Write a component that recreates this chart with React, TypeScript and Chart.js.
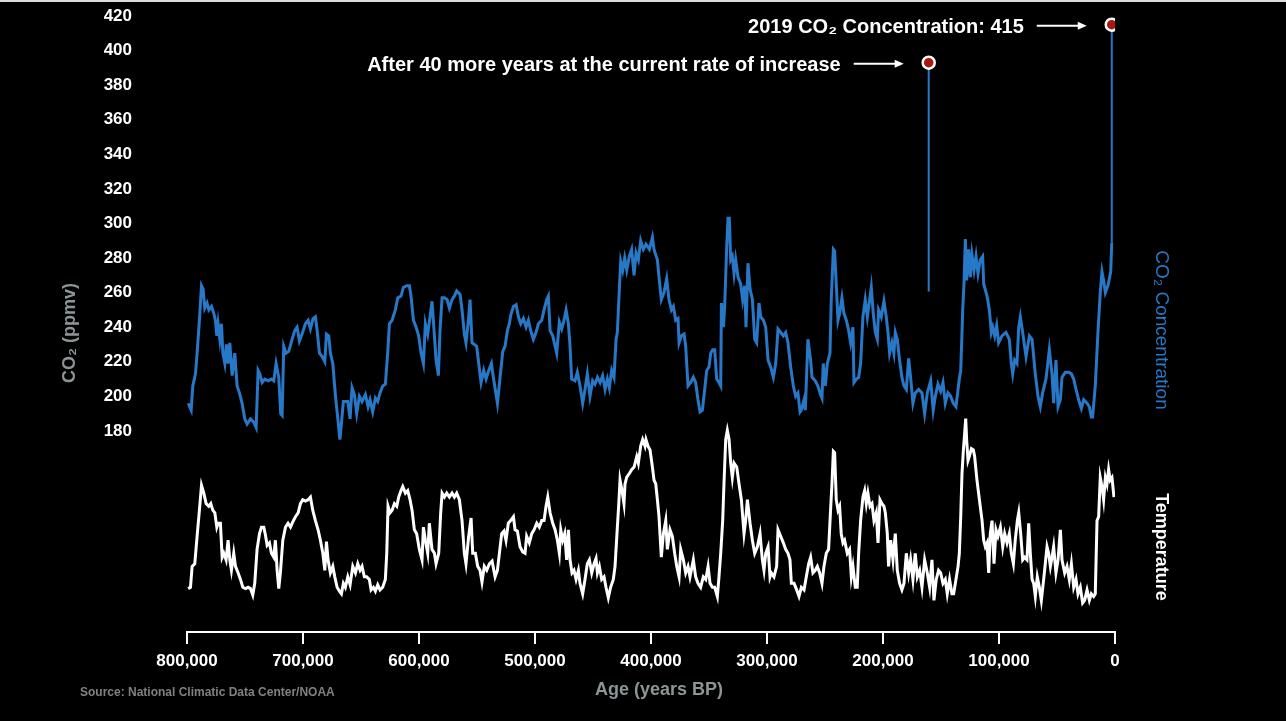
import React, { useEffect, useRef } from "react";
import { Chart, registerables } from "chart.js";

Chart.register(...registerables);

// Age in thousands of years before present (kyr BP)
const co2Age = [
  799.0, 796.4, 795.0, 792.7, 791.3, 789.3, 787.5, 786.1, 784.7, 782.7, 781.2, 778.9, 776.9, 775.5, 774.3, 773.2,
  771.7, 770.3, 769.1, 767.4, 766.0, 764.6, 763.1, 761.1, 758.8, 756.8, 754.8, 752.5, 750.2, 748.2, 745.3, 742.4,
  740.4, 738.7, 737.3, 735.2, 732.9, 730.1, 727.2, 725.2, 723.2, 720.9, 719.2, 718.0, 716.6, 714.6, 712.3, 709.4,
  707.1, 705.1, 703.1, 700.8, 697.9, 695.6, 693.6, 691.3, 689.3, 687.8, 685.8, 683.5, 681.2, 679.8, 677.8, 676.4,
  674.3, 672.0, 669.8, 668.2, 666.8, 665.2, 661.4, 659.4, 657.7, 655.7, 653.7, 651.4, 649.1, 646.2, 643.9, 642.2,
  639.9, 637.6, 635.6, 633.6, 631.3, 629.0, 627.0, 625.5, 623.2, 620.4, 618.3, 615.5, 613.5, 610.6, 608.3, 606.9,
  604.8, 602.5, 600.3, 598.2, 596.2, 594.5, 592.5, 590.5, 588.8, 586.7, 585.3, 583.3, 581.9, 580.1, 578.1, 575.8,
  573.8, 571.5, 569.5, 567.5, 564.6, 562.9, 560.9, 559.5, 557.4, 556.0, 554.3, 552.3, 550.3, 548.5, 546.5, 544.2,
  542.2, 539.9, 537.6, 535.9, 532.4, 530.1, 527.8, 525.8, 523.8, 522.1, 520.9, 518.6, 516.3, 514.3, 512.3, 510.0,
  507.7, 505.7, 503.7, 501.4, 499.1, 497.1, 494.2, 492.2, 489.9, 488.5, 487.0, 484.7, 482.7, 481.3, 479.0, 477.0,
  475.0, 473.2, 471.2, 469.8, 468.4, 465.5, 463.5, 461.2, 458.9, 456.9, 454.9, 452.6, 450.3, 448.3, 446.2, 443.9,
  441.7, 439.6, 437.6, 435.9, 433.9, 431.9, 430.1, 429.0, 427.3, 426.1, 424.4, 422.7, 420.9, 418.7, 416.7, 414.6,
  412.9, 410.9, 408.9, 406.6, 404.3, 401.4, 398.8, 397.4, 394.5, 393.1, 391.1, 388.8, 386.5, 384.5, 382.4, 380.7,
  378.7, 376.7, 375.8, 373.8, 371.5, 370.1, 368.1, 365.8, 363.5, 361.5, 359.5, 357.7, 355.7, 353.7, 352.0, 350.0,
  348.5, 346.8, 345.1, 343.4, 341.4, 339.9, 339.3, 337.6, 336.5, 334.7, 333.6, 332.5, 331.3, 329.9, 328.4, 327.0,
  325.0, 322.7, 321.0, 319.2, 318.1, 316.4, 314.6, 312.6, 310.6, 308.9, 306.9, 305.4, 303.1, 301.1, 299.1, 296.8,
  294.5, 292.5, 290.5, 288.2, 285.9, 283.9, 281.9, 279.6, 277.3, 275.3, 273.3, 271.5, 270.4, 268.1, 267.0, 264.7,
  262.4, 261.2, 258.4, 256.1, 253.8, 252.6, 251.5, 249.7, 248.0, 245.7, 244.6, 242.8, 241.7, 240.3, 238.8, 237.4,
  235.4, 233.7, 231.6, 229.6, 227.9, 225.9, 225.0, 223.0, 221.0, 219.3, 217.3, 215.3, 213.5, 211.5, 210.1, 208.4,
  206.6, 204.9, 203.8, 201.5, 199.2, 197.2, 195.7, 194.3, 192.3, 190.6, 189.4, 187.7, 185.7, 183.7, 181.9, 179.9,
  177.9, 176.2, 174.2, 172.2, 169.3, 166.4, 164.1, 161.8, 158.9, 156.7, 154.9, 152.6, 150.3, 148.3, 146.3, 144.0,
  141.7, 139.4, 137.1, 135.3, 134.2, 133.0, 131.9, 131.3, 130.2, 129.0, 127.9, 126.1, 124.7, 123.3, 121.5, 119.8,
  118.1, 116.1, 114.1, 113.2, 110.3, 108.3, 106.6, 105.4, 103.7, 102.0, 100.3, 97.4, 94.0, 91.1, 89.4, 88.2,
  86.5, 84.5, 83.0, 81.6, 79.6, 76.7, 73.8, 71.5, 68.7, 66.4, 64.4, 62.4, 59.5, 56.6, 54.3, 52.9,
  50.9, 49.1, 47.1, 45.7, 42.8, 39.9, 37.6, 35.6, 33.6, 31.3, 29.0, 27.0, 24.1, 22.1, 20.4, 19.3,
  17.0, 14.7, 12.7, 11.2, 9.8, 8.3, 6.1, 3.7, 2.8
];

const co2Ppm = [
  196, 192, 206, 213, 225, 244, 264, 262, 251, 254, 250, 252, 248, 244, 235, 242,
  233, 242, 225, 219, 230, 219, 231, 212, 225, 206, 202, 196, 187, 184, 187, 185,
  182, 215, 213, 208, 210, 209, 210, 209, 219, 211, 190, 189, 229, 225, 226, 233,
  238, 240, 232, 236, 242, 244, 239, 245, 246, 238, 225, 223, 220, 236, 235, 225,
  219, 200, 186, 175, 185, 197, 197, 187, 205, 201, 190, 200, 197, 201, 194, 198,
  191, 199, 197, 202, 206, 207, 225, 242, 244, 250, 257, 258, 263, 264, 264, 258,
  244, 240, 235, 225, 219, 242, 236, 246, 255, 235, 221, 212, 238, 257, 257, 256,
  251, 256, 258, 261, 259, 250, 236, 231, 244, 256, 231, 230, 229, 219, 208, 215,
  210, 215, 219, 211, 196, 211, 226, 229, 238, 242, 247, 252, 253, 246, 242, 245,
  240, 244, 238, 233, 237, 242, 244, 250, 256, 258, 238, 235, 229, 225, 243, 239,
  244, 250, 242, 229, 210, 209, 214, 206, 196, 204, 213, 200, 209, 207, 211, 208,
  212, 204, 210, 205, 215, 211, 233, 237, 262, 278, 273, 280, 273, 281, 285, 270,
  283, 279, 290, 285, 288, 285, 292, 285, 279, 269, 256, 260, 268, 256, 250, 252,
  244, 245, 231, 235, 236, 229, 206, 208, 211, 208, 198, 191, 192, 204, 215, 217,
  225, 227, 227, 210, 208, 206, 254, 240, 252, 287, 303, 303, 279, 281, 271, 279,
  269, 265, 256, 264, 240, 277, 262, 256, 233, 231, 254, 246, 244, 240, 221, 217,
  211, 219, 239, 237, 235, 237, 231, 217, 206, 200, 202, 191, 192, 198, 192, 233,
  221, 211, 209, 206, 201, 199, 219, 206, 219, 225, 256, 285, 284, 265, 244, 248,
  257, 248, 244, 238, 231, 240, 208, 210, 211, 219, 246, 256, 246, 256, 263, 248,
  237, 233, 250, 246, 255, 246, 237, 225, 231, 225, 237, 233, 221, 211, 206, 204,
  222, 211, 196, 202, 204, 202, 190, 202, 209, 192, 200, 207, 203, 208, 196, 202,
  200, 196, 194, 204, 210, 215, 237, 250, 265, 291, 267, 285, 269, 282, 273, 281,
  271, 279, 281, 265, 258, 250, 237, 240, 235, 241, 231, 235, 237, 233, 219, 213,
  221, 219, 240, 246, 237, 223, 235, 233, 213, 200, 194, 202, 210, 227, 213, 196,
  221, 194, 198, 211, 214, 214, 213, 210, 204, 198, 193, 198, 196, 194, 188, 188,
  206, 237, 260, 272, 267, 260, 264, 272, 289
];

const tempAge = [
  799.0, 797.0, 795.6, 793.3, 791.3, 789.3, 787.5, 785.5, 783.5, 781.2, 779.5, 777.8, 776.0, 774.3, 773.2, 771.2,
  769.7, 768.3, 766.3, 764.6, 763.1, 761.7, 759.7, 758.2, 755.9, 753.9, 751.9, 749.6, 747.3, 745.3, 743.3, 741.6,
  739.6, 737.5, 735.8, 733.8, 732.4, 730.9, 728.9, 727.2, 725.2, 723.8, 722.3, 720.9, 719.5, 717.4, 715.1, 712.9,
  710.8, 708.8, 706.5, 704.2, 702.2, 700.2, 697.9, 695.6, 693.6, 691.6, 689.3, 687.0, 685.0, 682.9, 681.2, 679.8,
  678.4, 676.4, 674.3, 672.6, 670.6, 668.6, 666.9, 665.2, 663.5, 661.4, 659.4, 657.1, 654.8, 652.8, 650.8, 649.1,
  647.1, 645.1, 642.8, 641.3, 639.3, 637.6, 635.6, 633.6, 631.3, 629.0, 627.8, 626.7, 625.0, 623.2, 621.2, 619.2,
  617.5, 615.5, 614.0, 611.7, 609.7, 607.7, 606.0, 604.0, 602.0, 599.7, 597.4, 596.2, 594.5, 592.5, 591.1, 588.8,
  586.7, 585.3, 583.0, 581.3, 580.1, 578.1, 576.1, 573.8, 571.5, 569.5, 567.5, 565.2, 562.9, 560.9, 559.5, 557.2,
  555.1, 553.7, 551.4, 549.4, 547.4, 545.7, 543.7, 541.6, 539.3, 537.0, 534.4, 532.4, 530.7, 528.7, 526.7, 525.0,
  523.0, 521.0, 518.6, 517.2, 515.2, 512.9, 510.6, 508.6, 507.2, 504.9, 502.8, 500.8, 498.5, 496.3, 494.2, 492.2,
  490.5, 489.0, 487.0, 484.7, 482.7, 480.7, 479.0, 477.8, 476.1, 474.4, 472.7, 471.2, 469.8, 468.1, 466.4, 464.6,
  462.6, 461.2, 458.9, 456.9, 454.9, 453.1, 451.1, 449.1, 447.4, 446.2, 444.5, 442.5, 440.5, 438.8, 436.8, 434.8,
  432.5, 431.0, 429.0, 427.9, 426.7, 425.0, 423.3, 422.4, 421.0, 418.7, 416.7, 414.6, 412.3, 410.9, 408.9, 407.2,
  405.2, 404.3, 402.6, 400.8, 398.8, 397.4, 395.9, 394.5, 393.1, 391.1, 389.3, 387.3, 385.9, 383.6, 381.6, 379.6,
  377.8, 375.8, 374.4, 372.1, 370.1, 368.1, 366.4, 363.5, 361.5, 359.5, 357.2, 354.9, 352.8, 350.8, 349.1, 347.1,
  345.1, 342.8, 341.4, 339.9, 338.2, 337.1, 335.6, 334.2, 332.7, 331.3, 329.9, 328.4, 326.1, 324.1, 322.1, 319.8,
  318.4, 316.9, 314.6, 312.6, 310.6, 308.3, 306.0, 304.0, 302.6, 301.1, 299.1, 297.4, 296.3, 294.0, 291.7, 290.5,
  288.2, 285.9, 283.9, 281.9, 280.2, 279.0, 276.7, 274.4, 272.4, 270.4, 268.1, 266.1, 264.1, 262.4, 260.4, 258.4,
  256.6, 254.6, 252.6, 250.9, 248.9, 246.9, 245.2, 244.0, 242.8, 241.7, 240.3, 238.8, 237.4, 236.0, 234.5, 233.1,
  230.8, 228.8, 227.3, 225.9, 223.9, 222.2, 221.0, 219.3, 217.3, 215.8, 214.4, 213.0, 211.2, 209.5, 207.8, 205.8,
  204.3, 202.6, 200.9, 199.2, 198.0, 196.3, 195.2, 193.4, 191.4, 189.4, 187.7, 185.7, 183.7, 181.9, 179.9, 177.9,
  176.2, 174.2, 172.2, 170.4, 168.4, 166.4, 164.1, 161.8, 159.8, 157.8, 156.1, 154.1, 152.1, 150.3, 148.3, 146.3,
  144.6, 142.6, 140.6, 139.1, 137.1, 135.3, 134.2, 133.0, 131.9, 130.7, 129.6, 128.7, 127.9, 126.7, 125.6, 123.8,
  122.1, 121.0, 119.0, 116.9, 114.6, 113.2, 111.8, 110.3, 108.9, 107.5, 106.0, 104.3, 102.6, 100.9, 98.8, 96.8,
  95.1, 93.1, 91.1, 89.4, 87.6, 86.0, 84.2, 83.0, 81.3, 79.6, 77.9, 75.9, 74.4, 73.0, 71.5, 70.1,
  68.7, 67.0, 65.2, 63.5, 61.5, 60.1, 58.6, 57.2, 55.7, 54.3, 52.9, 50.9, 49.1, 47.1, 45.7, 43.4,
  41.4, 39.4, 37.6, 35.6, 33.6, 31.9, 29.9, 27.9, 26.2, 24.1, 22.1, 20.4, 18.4, 17.0, 15.5, 14.1,
  12.7, 11.2, 9.8, 8.3, 6.9, 5.5, 4.1, 2.6, 0.9
];

// Temperature anomaly (°C)
const tempAnomaly = [
  -8.9, -8.8, -7.2, -7.0, -4.9, -2.9, -1.0, -1.6, -2.4, -2.6, -2.4, -2.9, -3.1, -4.2, -3.9, -3.9,
  -6.5, -6.2, -6.7, -5.2, -6.7, -7.5, -6.2, -7.2, -7.7, -8.2, -8.8, -8.9, -8.8, -8.9, -9.4, -8.5,
  -5.9, -4.7, -4.2, -4.2, -4.8, -5.6, -5.4, -6.2, -6.5, -5.2, -7.5, -8.9, -7.7, -5.2, -4.2, -3.9,
  -4.2, -3.8, -3.4, -3.1, -2.4, -2.1, -2.2, -2.1, -1.9, -2.9, -3.7, -4.4, -5.2, -6.2, -7.5, -5.3,
  -6.7, -7.7, -7.2, -8.0, -8.8, -9.1, -9.3, -8.5, -8.8, -8.0, -8.6, -7.2, -7.7, -7.0, -7.5, -7.2,
  -8.0, -8.0, -8.2, -9.0, -8.8, -9.1, -8.6, -9.0, -8.8, -8.2, -6.2, -2.6, -3.1, -2.9, -2.4, -2.6,
  -1.9, -1.4, -1.1, -1.6, -1.4, -2.1, -2.9, -4.4, -4.7, -5.9, -6.7, -4.2, -5.2, -6.2, -3.9, -5.9,
  -6.2, -7.0, -6.2, -3.1, -1.6, -1.9, -1.6, -1.9, -1.6, -1.9, -1.6, -2.1, -3.7, -6.2, -7.0, -4.9,
  -3.5, -6.2, -6.2, -7.2, -7.5, -8.4, -7.2, -7.5, -7.0, -6.8, -8.0, -7.5, -6.2, -4.7, -4.5, -5.2,
  -3.9, -3.7, -3.4, -4.4, -4.5, -5.7, -6.1, -6.2, -4.9, -5.4, -4.7, -4.4, -3.9, -4.2, -3.7, -3.7,
  -2.6, -1.9, -3.1, -3.9, -4.4, -5.2, -6.2, -4.4, -5.2, -4.7, -6.7, -4.4, -6.7, -7.7, -7.5, -8.2,
  -7.5, -8.5, -9.3, -8.2, -7.0, -6.7, -7.7, -7.0, -6.6, -7.7, -7.2, -8.2, -8.0, -8.8, -9.6, -8.8,
  -8.2, -7.2, -4.2, -2.6, -0.6, -1.4, -2.4, -0.9, -0.4, -0.1, 0.2, 0.4, 1.2, 0.7, 2.0, 2.5,
  2.0, 2.5, 2.0, 1.7, 0.4, -0.6, -0.9, -2.1, -3.4, -6.5, -4.7, -3.7, -5.9, -4.4, -4.9, -6.2,
  -7.2, -8.0, -5.9, -6.7, -7.7, -7.2, -8.0, -6.7, -8.0, -8.5, -8.8, -8.0, -8.2, -7.2, -8.5, -8.8,
  -8.8, -9.5, -8.0, -6.2, -3.7, -0.9, 2.5, 3.2, 2.5, 0.7, -0.4, 0.7, 0.4, -0.9, -2.1, -4.7,
  -3.7, -2.1, -3.9, -5.2, -6.2, -5.7, -4.7, -6.7, -7.5, -6.2, -5.7, -8.0, -7.7, -8.0, -7.2, -4.4,
  -4.9, -5.4, -5.9, -6.2, -6.7, -8.5, -8.5, -9.0, -9.5, -8.8, -9.0, -8.0, -7.0, -6.5, -7.7, -7.5,
  -7.2, -7.7, -8.5, -7.2, -6.2, -5.9, -2.9, -0.9, 1.6, 1.5, -2.1, -2.9, -2.6, -4.7, -5.4, -5.2,
  -6.2, -5.9, -8.0, -7.2, -8.8, -8.8, -6.2, -3.7, -1.9, -1.4, -2.4, -1.6, -2.6, -2.4, -3.7, -3.1,
  -5.4, -2.1, -2.4, -2.6, -3.1, -4.7, -7.2, -5.2, -6.7, -4.7, -7.5, -8.5, -9.0, -8.5, -6.2, -7.7,
  -6.7, -8.2, -6.2, -8.0, -7.5, -8.8, -6.7, -7.7, -8.8, -6.7, -9.8, -8.2, -7.5, -7.7, -8.5, -8.2,
  -9.3, -8.2, -9.3, -9.3, -8.2, -7.2, -6.2, -3.4, -0.1, 1.7, 3.0, 4.1, 2.5, 0.9, 1.2, 1.8,
  1.7, 1.2, -0.6, -2.1, -3.7, -5.2, -5.7, -5.4, -7.7, -4.7, -3.7, -7.0, -4.4, -4.9, -4.2, -5.7,
  -4.7, -5.4, -4.7, -6.2, -7.0, -5.2, -3.7, -3.1, -4.7, -6.7, -6.5, -6.7, -3.9, -6.2, -8.2, -8.5,
  -9.5, -8.0, -8.8, -9.8, -8.2, -7.0, -5.7, -6.2, -7.2, -6.5, -5.7, -7.7, -6.7, -4.4, -6.7, -7.7,
  -7.2, -8.2, -7.0, -8.8, -8.2, -9.3, -8.8, -10.0, -9.8, -9.0, -9.8, -9.3, -9.5, -9.3, -3.7, -3.4,
  -0.4, -1.1, -2.1, -0.4, -0.9, 0.2, -0.6, -0.4, -1.9
];

// Highlighted values (2019 measurement; projection after 40 more years)
const markerAge = [2.8, 160.6];
const markerPpm = [415, 393];
const markerBasePpm = [289, 260.6];
const markerLabels = [
  "2019 CO\u2082 Concentration: 415",
  "After 40 more years at the current rate of increase",
];

const co2TickValues = [180, 200, 220, 240, 260, 280, 300, 320, 340, 360, 380, 400, 420];
const ageTickValues = [0, 100, 200, 300, 400, 500, 600, 700, 800];

const BLUE = "#2878c8";
const GRAY = "#8c9696";
const FONT = '"Liberation Sans", Arial, Helvetica, sans-serif';

const decorPlugin = {
  id: "decor",
  beforeDraw(chart: any) {
    const { ctx, width, height } = chart;
    ctx.save();
    ctx.fillStyle = "#000";
    ctx.fillRect(0, 0, width, height);
    ctx.restore();
  },
  afterDraw(chart: any) {
    const { ctx } = chart;
    const xs = chart.scales.x;
    const ys = chart.scales.y;
    ctx.save();
    // thin light line on top edge
    ctx.fillStyle = "#dcdcdc";
    ctx.fillRect(0, 0, chart.width, 2);

    // left axis title
    ctx.save();
    ctx.translate(70, 333);
    ctx.rotate(-Math.PI / 2);
    ctx.fillStyle = GRAY;
    ctx.font = `bold 18px ${FONT}`;
    ctx.textAlign = "center";
    ctx.textBaseline = "middle";
    ctx.fillText("CO\u2082 (ppmv)", 0, 0);
    ctx.restore();

    // x axis title
    ctx.fillStyle = GRAY;
    ctx.font = `bold 18px ${FONT}`;
    ctx.textAlign = "center";
    ctx.textBaseline = "middle";
    ctx.fillText("Age (years BP)", 659, 690);

    // right series labels
    const drawV = (text: string, x: number, y: number, color: string, font: string) => {
      ctx.save();
      ctx.translate(x, y);
      ctx.rotate(Math.PI / 2);
      ctx.fillStyle = color;
      ctx.font = font;
      ctx.textAlign = "center";
      ctx.textBaseline = "middle";
      ctx.fillText(text, 0, 0);
      ctx.restore();
    };
    drawV("CO\u2082 Concentration", 1161, 330, BLUE, `19px ${FONT}`);
    drawV("Temperature", 1161, 547, "#ffffff", `bold 18px ${FONT}`);

    // source
    ctx.fillStyle = "#808080";
    ctx.font = `bold 12px ${FONT}`;
    ctx.textAlign = "left";
    ctx.textBaseline = "middle";
    ctx.fillText("Source: National Climatic Data Center/NOAA", 80, 693);

    // annotations
    for (let i = 0; i < markerAge.length; i++) {
      const px = xs.getPixelForValue(markerAge[i]);
      const py = ys.getPixelForValue(markerPpm[i]);
      ctx.fillStyle = "#ffffff";
      ctx.font = `bold 20px ${FONT}`;
      ctx.textAlign = "right";
      ctx.textBaseline = "middle";
      ctx.fillText(markerLabels[i], px - 88, py + 3);
      // arrow
      const x0 = px - 75;
      const x1 = px - 25;
      const ay = py + 1;
      ctx.strokeStyle = "#ffffff";
      ctx.lineWidth = 2;
      ctx.beginPath();
      ctx.moveTo(x0, ay);
      ctx.lineTo(x1 - 7, ay);
      ctx.stroke();
      ctx.beginPath();
      ctx.moveTo(x1, ay);
      ctx.lineTo(x1 - 9, ay - 4);
      ctx.lineTo(x1 - 9, ay + 4);
      ctx.closePath();
      ctx.fill();
    }
    ctx.restore();
  },
};

export default function App() {
  const ref = useRef<HTMLCanvasElement | null>(null);

  useEffect(() => {
    if (!ref.current) return;
    Chart.defaults.font.family = FONT;

    const co2Data = co2Age.map((a, i) => ({ x: a, y: co2Ppm[i] }));
    const tempData = tempAge.map((a, i) => ({ x: a, y: tempAnomaly[i] }));
    const stems = markerAge.map((a, i) => ({
      data: [
        { x: a, y: markerBasePpm[i] },
        { x: a, y: markerPpm[i] },
      ],
    }));

    const chart = new Chart(ref.current, {
      type: "line",
      data: {
        datasets: [
          {
            label: "markers",
            type: "scatter",
            data: markerAge.map((a, i) => ({ x: a, y: markerPpm[i] })),
            yAxisID: "y",
            pointRadius: 6,
            pointBackgroundColor: "#a8180e",
            pointBorderColor: "#ffffff",
            pointBorderWidth: 2.5,
            showLine: false,
            order: 0,
          } as any,
          ...stems.map((s, i) => ({
            label: "stem" + i,
            data: s.data,
            yAxisID: "y",
            borderColor: BLUE,
            borderWidth: 2,
            pointRadius: 0,
            order: 1,
          })),
          {
            label: "CO2",
            data: co2Data,
            yAxisID: "y",
            borderColor: BLUE,
            borderWidth: 3,
            pointRadius: 0,
            tension: 0,
            order: 2,
          },
          {
            label: "Temperature",
            data: tempData,
            yAxisID: "y2",
            borderColor: "#ffffff",
            borderWidth: 3,
            pointRadius: 0,
            tension: 0,
            order: 3,
          },
        ],
      },
      options: {
        responsive: false,
        animation: false,
        devicePixelRatio: 1,
        layout: { padding: { left: 0, right: 171, top: 16, bottom: 0 } },
        plugins: {
          legend: { display: false },
          tooltip: { enabled: false },
          title: { display: false },
        },
        scales: {
          x: {
            type: "linear",
            reverse: true,
            min: 0,
            max: 800,
            afterBuildTicks: (s: any) => {
              s.ticks = ageTickValues.map((v) => ({ value: v }));
            },
            afterFit: (s: any) => {
              s.height = 89;
            },
            ticks: {
              color: "#ffffff",
              font: { size: 17, weight: "bold" },
              padding: 7,
              maxRotation: 0,
              autoSkip: false,
              callback: (v: any) => (Number(v) * 1000).toLocaleString("en-US"),
            },
            grid: {
              display: true,
              drawOnChartArea: false,
              drawTicks: true,
              tickLength: 12,
              color: "#ffffff",
              lineWidth: 2,
            },
            border: { display: true, color: "#ffffff", width: 2 },
          },
          y: {
            type: "linear",
            position: "left",
            min: 63.7,
            max: 420,
            afterBuildTicks: (s: any) => {
              s.ticks = co2TickValues.map((v) => ({ value: v }));
            },
            afterFit: (s: any) => {
              s.width = 187;
            },
            ticks: {
              color: "#ffffff",
              font: { size: 17, weight: "bold" },
              padding: 0,
              autoSkip: false,
            },
            grid: {
              display: true,
              drawOnChartArea: false,
              drawTicks: true,
              tickLength: 55,
              color: "rgba(0,0,0,0)",
            },
            border: { display: false },
          },
          y2: {
            type: "linear",
            display: false,
            min: -12.22,
            max: 34.9,
          },
        },
      },
      plugins: [decorPlugin],
    } as any);

    return () => chart.destroy();
  }, []);

  return (
    <div
      style={{
        position: "fixed",
        left: 0,
        top: 0,
        width: 1286,
        height: 721,
        background: "#000",
        overflow: "hidden",
      }}
    >
      <canvas ref={ref} width={1286} height={721} style={{ display: "block", width: 1286, height: 721 }} />
    </div>
  );
}
